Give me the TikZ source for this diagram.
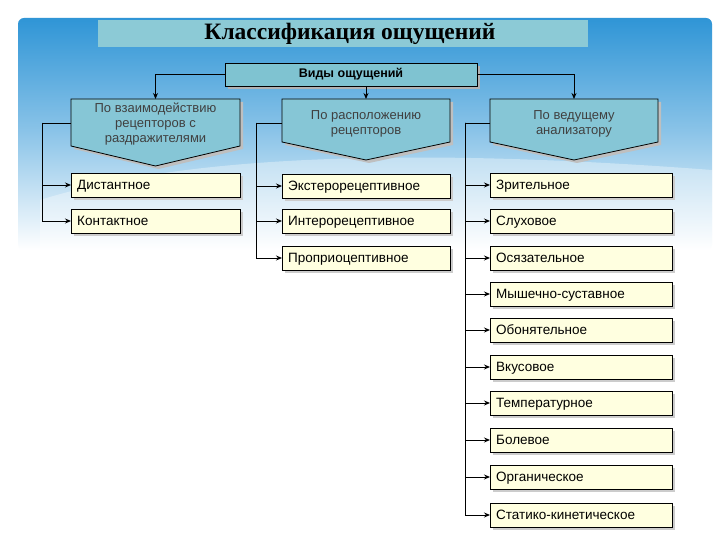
\documentclass[tikz,border=0pt]{standalone}
\usepackage{fontspec}
\setmainfont{Liberation Sans}
\newfontfamily\titlefont{Liberation Serif}
\usetikzlibrary{arrows.meta,calc}
\definecolor{bgblue}{HTML}{2F95D6}
\definecolor{titlebox}{HTML}{8CCAD6}
\definecolor{vidbox}{HTML}{7FC3D1}
\definecolor{hdrbox}{HTML}{86C6D6}
\definecolor{itembox}{HTML}{FFFFE0}
\tikzset{
  item/.style={draw=black,fill=itembox,minimum height=24pt,anchor=west,inner xsep=6pt,inner ysep=0pt,
    font=\fontsize{13.5}{15}\selectfont,text depth=0pt,align=left},
  hdrtext/.style={align=center,font=\fontsize{13}{15}\selectfont,text=black!75},
  conn/.style={draw=black,line width=0.9pt,-{Stealth[length=6pt,width=5pt]}},
  plain/.style={draw=black,line width=0.9pt}
}
\newcommand{\itemat}[5]{% name, x1, x2, ycenter, text
  \fill[black!20] (#2+3,#4-9) rectangle (#3+3,#4+15);
  \node[item,minimum width=#3-#2,text width=#3-#2-12pt] (#1) at (#2,#4) {#5};}
\newcommand{\hdr}[6]{% name, x1, x2, ybottomside, tipy, text
  \fill[black!25] (#2+3,102) -- (#3+3,102) -- (#3+3,#4+3) -- ({(#2+#3)/2+3},#5+3) -- (#2+3,#4+3) -- cycle;
  \draw[fill=hdrbox,line width=0.8pt] (#2,99) -- (#3,99) -- (#3,#4) -- ({(#2+#3)/2},#5) -- (#2,#4) -- cycle;
  \node[hdrtext] (#1) at ({(#2+#3)/2},124) {#6};
  \coordinate (#1top) at ({(#2+#3)/2},99);
  \coordinate (#1side) at (#2,123);}
\begin{document}
\begin{tikzpicture}[x=1pt,y=-1pt]
\useasboundingbox (0,0) rectangle (720,540);
\fill[white] (0,0) rectangle (720,540);
\shade[top color=bgblue,bottom color=white,middle color=bgblue!55,rounded corners=6pt] (18,18) rectangle (712,250);
\fill[white,opacity=0.35] (40,200) .. controls (200,150) and (450,150) .. (712,170) -- (712,250) -- (40,250) -- cycle;
% title
\fill[titlebox] (98,20) rectangle (588,47);
\node[font=\titlefont\bfseries\fontsize{23.5}{26}\selectfont] (title) at (350,34) {Классификация ощущений};
% vidy
\fill[black!30] (228,66) rectangle (480,89);
\node[draw=black,fill=vidbox,line width=0.8pt,minimum width=252pt,minimum height=23pt,inner sep=0pt,
  font=\bfseries\fontsize{12.5}{14}\selectfont] (vid) at (351,74.5) {Виды ощущений};
% headers
\hdr{h1}{71}{240}{146}{166}{По взаимодействию\\рецепторов с\\раздражителями}
\hdr{h2}{282}{450}{142}{160}{По расположению\\рецепторов}
\hdr{h3}{490}{658}{142}{160}{По ведущему\\анализатору}
\draw[conn] (vid.west) -| (h1top);
\draw[conn] (vid.south -| h2top) -- (h2top);
\draw[conn] (vid.east) -| (h3top);
% items col1
\itemat{a1}{71}{240}{185}{Дистантное}
\itemat{a2}{71}{240}{221}{Контактное}
% col2
\itemat{b1}{282}{450}{186}{Экстерорецептивное}
\itemat{b2}{282}{450}{221}{Интерорецептивное}
\itemat{b3}{282}{450}{258}{Проприоцептивное}
% col3
\itemat{c1}{490}{672}{185}{Зрительное}
\itemat{c2}{490}{672}{221}{Слуховое}
\itemat{c3}{490}{672}{258}{Осязательное}
\itemat{c4}{490}{672}{294}{Мышечно-суставное}
\itemat{c5}{490}{672}{330}{Обонятельное}
\itemat{c6}{490}{672}{367}{Вкусовое}
\itemat{c7}{490}{672}{403}{Температурное}
\itemat{c8}{490}{672}{440}{Болевое}
\itemat{c9}{490}{672}{477}{Органическое}
\itemat{c10}{490}{672}{515}{Статико-кинетическое}
% brackets
\coordinate (s1) at (42,123);
\draw[plain] (h1side) -- (s1);
\foreach \n in {a1,a2} \draw[conn] (s1) |- (\n.west);
\coordinate (s2) at (256,123);
\draw[plain] (h2side) -- (s2);
\foreach \n in {b1,b2,b3} \draw[conn] (s2) |- (\n.west);
\coordinate (s3) at (465,123);
\draw[plain] (h3side) -- (s3);
\foreach \n in {c1,c2,c3,c4,c5,c6,c7,c8,c9,c10} \draw[conn] (s3) |- (\n.west);
\end{tikzpicture}
\end{document}
